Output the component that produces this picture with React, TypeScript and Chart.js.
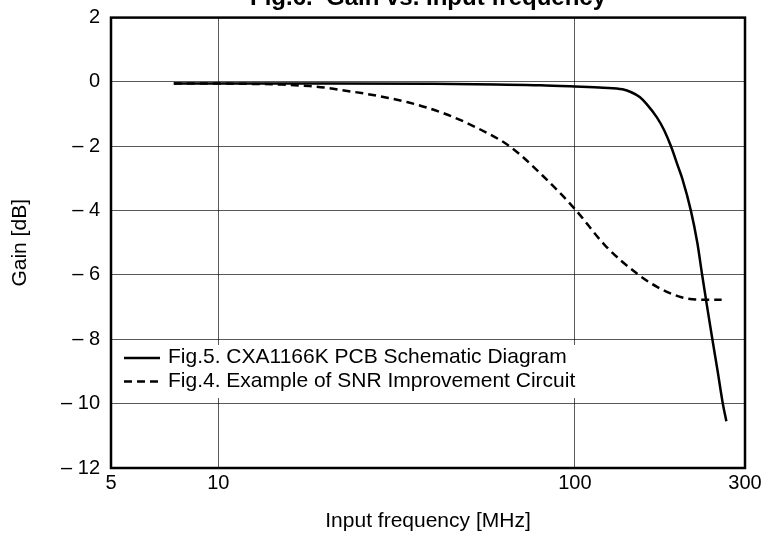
import React, { useEffect, useRef } from 'react';
import { Chart, registerables } from 'chart.js';

Chart.register(...registerables);

const FONT = "'Liberation Sans', Arial, Helvetica, sans-serif";

const chartTitle = 'Fig.6.  Gain vs. Input frequency';
const xAxisTitle = 'Input frequency [MHz]';
const yAxisTitle = 'Gain [dB]';

const xTickValues = [5, 10, 100, 300];
const xTickLabels = ['5', '10', '100', '300'];
const yTickValues = [-12, -10, -8, -6, -4, -2, 0, 2];
const yTickLabels = ['– 12', '– 10', '– 8', '– 6', '– 4', '– 2', '0', '2'];

const seriesLabels = [
  'Fig.5. CXA1166K PCB Schematic Diagram',
  'Fig.4. Example of SNR Improvement Circuit',
];

const solidFreq = [7.5, 10, 20, 40, 60, 80, 100, 120, 136, 144, 152, 159, 170, 178, 186, 195, 200, 211.5, 220.5, 227.5, 235, 243, 251.5, 260, 266];
const solidGain = [-0.05, -0.05, -0.05, -0.06, -0.08, -0.1, -0.14, -0.18, -0.23, -0.32, -0.47, -0.69, -1.11, -1.5, -2.0, -2.65, -3.0, -4.0, -5.0, -6.0, -7.0, -8.0, -9.0, -10.0, -10.55];

const dashedFreq = [7.5, 10, 12, 15, 18, 20, 23, 26, 30, 34, 43, 53, 65.6, 81, 100, 122, 149, 170, 199, 229, 258];
const dashedGain = [-0.05, -0.05, -0.06, -0.08, -0.13, -0.18, -0.28, -0.37, -0.5, -0.63, -0.98, -1.42, -2.0, -2.9, -3.95, -5.1, -5.95, -6.37, -6.69, -6.77, -6.77];

const toPoints = (xs: number[], ys: number[]) => xs.map((x, i) => ({ x, y: ys[i] }));

const frameAndLegend = {
  id: 'frameAndLegend',
  afterDatasetsDraw(chart: any) {
    const { ctx, chartArea } = chart;
    const { left, right, top, bottom } = chartArea;
    ctx.save();
    // legend box (white background)
    const boxL = left + 3;
    const boxR = 590;
    const boxT = bottom - 123;
    const boxB = bottom - 70;
    ctx.fillStyle = '#ffffff';
    ctx.fillRect(boxL, boxT, boxR - boxL, boxB - boxT);
    ctx.font = `21px ${FONT}`;
    ctx.textBaseline = 'alphabetic';
    ctx.textAlign = 'left';
    ctx.fillStyle = '#000';
    const baselines = [bottom - 105, bottom - 81.5];
    chart.data.datasets.forEach((ds: any, i: number) => {
      const by = baselines[i];
      ctx.strokeStyle = ds.borderColor;
      ctx.lineWidth = ds.borderWidth;
      ctx.setLineDash(ds.borderDash || []);
      ctx.beginPath();
      ctx.moveTo(left + 13, by - 5);
      ctx.lineTo(left + 49, by - 5);
      ctx.stroke();
      ctx.setLineDash([]);
      ctx.fillText(ds.label, left + 57, by);
    });
    // frame
    ctx.strokeStyle = '#000';
    ctx.lineWidth = 2.5;
    ctx.strokeRect(left, top, right - left, bottom - top);
    ctx.restore();
  },
};

export default function App() {
  const canvasRef = useRef<HTMLCanvasElement | null>(null);

  useEffect(() => {
    if (!canvasRef.current) return;
    const chart = new Chart(canvasRef.current, {
      type: 'line',
      data: {
        datasets: [
          {
            label: seriesLabels[0],
            data: toPoints(solidFreq, solidGain),
            borderColor: '#000',
            borderWidth: 2.5,
            pointRadius: 0,
            cubicInterpolationMode: 'monotone',
            fill: false,
          },
          {
            label: seriesLabels[1],
            data: toPoints(dashedFreq, dashedGain),
            borderColor: '#000',
            borderWidth: 2.5,
            borderDash: [8, 5],
            pointRadius: 0,
            cubicInterpolationMode: 'monotone',
            fill: false,
          },
        ],
      },
      options: {
        responsive: false,
        animation: false,
        layout: { padding: { left: 0, right: 23, top: 0, bottom: 0 } },
        plugins: {
          legend: { display: false },
          tooltip: { enabled: false },
          title: {
            display: true,
            fullSize: false,
            text: chartTitle,
            color: '#000',
            font: { family: FONT, size: 24, weight: 'bold' },
            padding: { top: 3.5, bottom: 5.3 },
          },
        },
        scales: {
          x: {
            type: 'logarithmic',
            min: 5,
            max: 300,
            afterBuildTicks: (scale: any) => {
              scale.ticks = xTickValues.map((v) => ({ value: v }));
            },
            afterFit: (scale: any) => {
              scale.height = 77;
            },
            ticks: {
              autoSkip: false,
              maxRotation: 0,
              padding: 3,
              color: '#000',
              font: { family: FONT, size: 20 },
              callback: (value: any) => {
                const i = xTickValues.indexOf(Number(value));
                return i >= 0 ? xTickLabels[i] : '';
              },
            },
            grid: { color: 'rgba(0,0,0,0.65)', lineWidth: 1, drawTicks: false },
            border: { display: false },
            title: {
              display: true,
              text: xAxisTitle,
              color: '#000',
              font: { family: FONT, size: 21 },
              padding: { top: 0, bottom: 11 },
            },
          },
          y: {
            type: 'linear',
            min: -12,
            max: 2,
            afterBuildTicks: (scale: any) => {
              scale.ticks = yTickValues.map((v) => ({ value: v }));
            },
            afterFit: (scale: any) => {
              scale.width = 111;
            },
            ticks: {
              autoSkip: false,
              padding: 11,
              color: '#000',
              font: { family: FONT, size: 20 },
              callback: (value: any) => {
                const i = yTickValues.indexOf(Number(value));
                return i >= 0 ? yTickLabels[i] : '';
              },
            },
            grid: { color: 'rgba(0,0,0,0.65)', lineWidth: 1, drawTicks: false },
            border: { display: false },
            title: {
              display: true,
              text: yAxisTitle,
              color: '#000',
              font: { family: FONT, size: 21 },
              padding: { top: 8, bottom: 0 },
            },
          },
        },
      } as any,
      plugins: [frameAndLegend],
    });
    return () => chart.destroy();
  }, []);

  return (
    <div style={{ position: 'fixed', left: 0, top: -20, width: 768, height: 565, background: '#fff' }}>
      <canvas ref={canvasRef} width={768} height={565} style={{ width: 768, height: 565, display: 'block' }} />
    </div>
  );
}
